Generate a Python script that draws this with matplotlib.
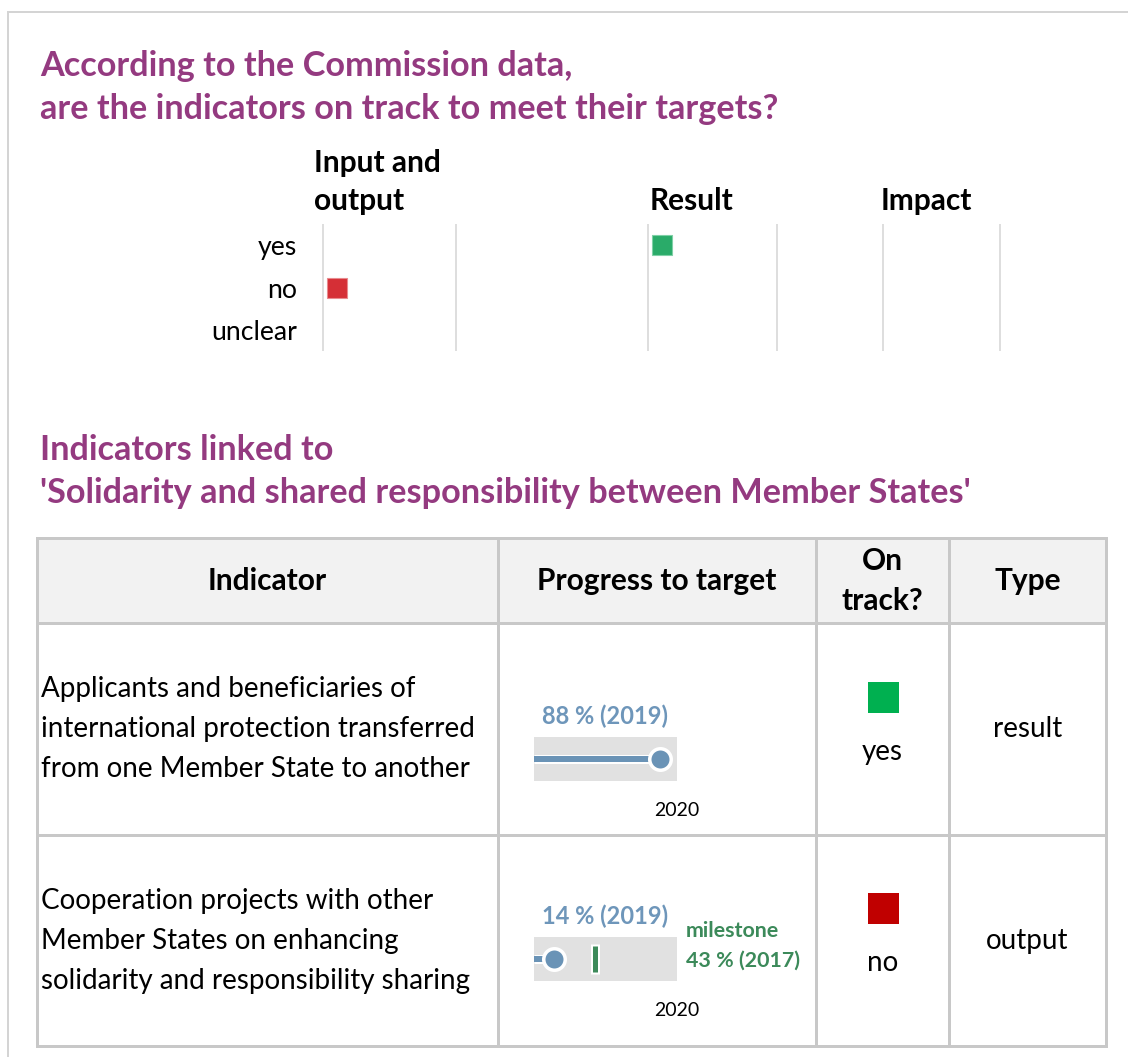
import matplotlib
matplotlib.use("Agg")
import matplotlib.pyplot as plt
from matplotlib.patches import Rectangle

plt.rcParams['font.family'] = ['Lato', 'DejaVu Sans']

# --- data -------------------------------------------------------------
track_types = ["Input and\noutput", "Result", "Impact"]
track_status = ["yes", "no", "unclear"]
# number of indicators per type (rows) and status (columns)
track_counts = [[0, 1, 0],
                [1, 0, 0],
                [0, 0, 0]]

table_headers = ["Indicator", "Progress to target", "On\ntrack?", "Type"]
indicators = [
    "Applicants and beneficiaries of\ninternational protection transferred\nfrom one Member State to another",
    "Cooperation projects with other\nMember States on enhancing\nsolidarity and responsibility sharing",
]
progress_pct = [88, 14]
progress_year = [2019, 2019]
target_year = [2020, 2020]
milestone_pct = [None, 43]
milestone_year = [None, 2017]
on_track = ["yes", "no"]
indicator_type = ["result", "output"]

# --- style ------------------------------------------------------------
PURPLE = "#943a80"
BLUE = "#6a93b6"
BLUE_TXT = "#6e96ba"
GREEN_TXT = "#3c8a5a"
GRID = "#dedede"
TABLE_LINE = "#c8c8c8"
status_colors_top = {"yes": "#2aab69", "no": "#d52f36", "unclear": "#9e9e9e"}
status_colors = {"yes": "#00b050", "no": "#c00000", "unclear": "#9e9e9e"}

W, H = 1128, 1057
fig = plt.figure(figsize=(W / 100, H / 100), dpi=100)
bg = fig.add_axes([0, 0, 1, 1])
bg.set_xlim(0, W)
bg.set_ylim(H, 0)
bg.axis("off")
renderer = fig.canvas.get_renderer()


def px_rect(x0, y0, x1, y1):
    return [x0 / W, 1 - y1 / H, (x1 - x0) / W, (y1 - y0) / H]


def fit_size(s, width, weight="normal"):
    t = bg.text(0, 0, s, fontsize=20, fontweight=weight)
    w = t.get_window_extent(renderer).width
    t.remove()
    return 20 * width / w


TITLE = fit_size("'Solidarity and shared responsibility between Member States'", 932, "bold")
HEAD = fit_size("Progress to target", 239, "bold")
BODY = fit_size("international protection transferred", 434)
LABEL = fit_size("88 % (2019)", 126, "bold")
MILE = fit_size("43 % (2017)", 114, "bold")
SMALL = fit_size("2020", 45)
ROWLAB = fit_size("unclear", 86)
PT = 72 / 100  # points per pixel

# outer frame
bg.plot([8, W], [12, 12], color="#d4d4d4", lw=2 * PT)
bg.plot([8, 8], [12, H], color="#d4d4d4", lw=2 * PT)

# titles
bg.text(40, 66, "According to the Commission data,", color=PURPLE, fontsize=TITLE,
        fontweight="bold", va="center")
bg.text(40, 109, "are the indicators on track to meet their targets?", color=PURPLE,
        fontsize=TITLE, fontweight="bold", va="center")
bg.text(40, 450, "Indicators linked to", color=PURPLE, fontsize=TITLE,
        fontweight="bold", va="center")
bg.text(40, 493, "'Solidarity and shared responsibility between Member States'",
        color=PURPLE, fontsize=TITLE, fontweight="bold", va="center")

# --- top chart: status per indicator type ---------------------------------
col_left = [323, 648, 883]
col_right = [456, 777, 1000]
head_x = [314, 650, 881]
for i, typ in enumerate(track_types):
    ax = fig.add_axes(px_rect(col_left[i], 225, col_right[i], 350))
    ax.set_facecolor("none")
    width_units = (col_right[i] - col_left[i]) / 20
    ax.set_xlim(0, width_units)
    ax.set_ylim(len(track_status) - 0.53, -0.47)
    for s in ["top", "bottom"]:
        ax.spines[s].set_visible(False)
    for s in ["left", "right"]:
        ax.spines[s].set_color(GRID)
        ax.spines[s].set_linewidth(2 * PT)
    ax.set_xticks([])
    if i == 0:
        ax.set_yticks(range(len(track_status)))
        ax.set_yticklabels(track_status, fontsize=ROWLAB)
        ax.tick_params(axis="y", length=0, pad=26 * PT)
    else:
        ax.set_yticks([])
    for j, status in enumerate(track_status):
        n = track_counts[i][j]
        if n:
            xs = [0.7 + k * 1.2 for k in range(n)]
            ax.plot(xs, [j] * n, ls="none", marker="s", markersize=20 * PT,
                    color=status_colors_top[status], markeredgecolor="#e88a8e"
                    if status == "no" else "#7fd0a6", markeredgewidth=0.8)
    lines = typ.split("\n")
    for k, line in enumerate(lines):
        bg.text(head_x[i], 201 - 38 * (len(lines) - 1 - k), line, fontsize=HEAD,
                fontweight="bold", va="center")

# --- table --------------------------------------------------------------
col_x = [37, 498, 816, 949, 1106]
row_y = [538, 623, 835, 1046]
bg.add_patch(Rectangle((col_x[0], row_y[0]), col_x[-1] - col_x[0], row_y[1] - row_y[0],
                       facecolor="#f2f2f2", edgecolor="none"))
for x in col_x:
    bg.plot([x, x], [row_y[0], row_y[-1]], color=TABLE_LINE, lw=3 * PT,
            solid_capstyle="projecting")
for y in row_y:
    bg.plot([col_x[0], col_x[-1]], [y, y], color=TABLE_LINE, lw=3 * PT,
            solid_capstyle="projecting")

for c, head in enumerate(table_headers):
    cx = (col_x[c] + col_x[c + 1]) / 2
    lines = head.split("\n")
    for k, line in enumerate(lines):
        y = 581 + (k - (len(lines) - 1) / 2) * 40
        bg.text(cx, y, line, fontsize=HEAD, fontweight="bold", ha="center", va="center")

bar_top = [737, 937]
for r in range(len(indicators)):
    cy = (row_y[r + 1] + row_y[r + 2]) / 2
    lines = indicators[r].split("\n")
    for k, line in enumerate(lines):
        bg.text(41, cy + (k - 1) * 40, line, fontsize=BODY, va="center")

    # progress bar
    ax = fig.add_axes(px_rect(534, bar_top[r], 677, bar_top[r] + 44))
    ax.set_facecolor("#e1e1e1")
    ax.set_xlim(0, 100)
    ax.set_ylim(0, 1)
    for s in ax.spines.values():
        s.set_visible(False)
    ax.set_xticks([])
    ax.set_yticks([])
    v = progress_pct[r]
    ax.plot([0, v], [0.5, 0.5], color="white", lw=9 * PT, solid_capstyle="butt")
    ax.plot([0, v], [0.5, 0.5], color=BLUE, lw=6 * PT, solid_capstyle="butt")
    ax.plot([v], [0.5], marker="o", markersize=21.5 * PT, color=BLUE,
            markeredgecolor="white", markeredgewidth=3.5 * PT, clip_on=False)
    if milestone_pct[r] is not None:
        m = milestone_pct[r]
        ax.plot([m, m], [0.17, 0.83], color="white", lw=9 * PT, solid_capstyle="butt")
        ax.plot([m, m], [0.2, 0.8], color="#3d8a5a", lw=5 * PT, solid_capstyle="butt")
        ax.annotate("milestone", xy=(100, 1), xycoords="data", xytext=(9 * PT, 6 * PT),
                    textcoords="offset points", ha="left", va="center",
                    fontsize=MILE, fontweight="bold", color=GREEN_TXT,
                    annotation_clip=False)
        ax.annotate(f"{m} % ({milestone_year[r]})", xy=(100, 1), xycoords="data",
                    xytext=(9 * PT, -24 * PT), textcoords="offset points", ha="left",
                    va="center", fontsize=MILE, fontweight="bold",
                    color=GREEN_TXT, annotation_clip=False)
    ax.annotate(f"{v} % ({progress_year[r]})", xy=(50, 1), xycoords="data",
                xytext=(0, 21 * PT), textcoords="offset points", ha="center",
                va="center", fontsize=LABEL, fontweight="bold", color=BLUE_TXT,
                annotation_clip=False)
    ax.annotate(str(target_year[r]), xy=(100, 0), xycoords="data",
                xytext=(0, -30 * PT), textcoords="offset points", ha="center",
                va="center", fontsize=SMALL, color="black", annotation_clip=False)

    # on track
    ox = (col_x[2] + col_x[3]) / 2
    sq_y = [697, 908][r]
    bg.plot([ox], [sq_y], ls="none", marker="s", markersize=31 * PT,
            color=status_colors[on_track[r]], markeredgewidth=0)
    bg.text(ox, sq_y + 55, on_track[r], fontsize=BODY, ha="center", va="center")

    # type
    tx = (col_x[3] + col_x[4]) / 2
    bg.text(tx, cy, indicator_type[r], fontsize=BODY, ha="center", va="center")

fig.savefig("out.png", dpi=100)
